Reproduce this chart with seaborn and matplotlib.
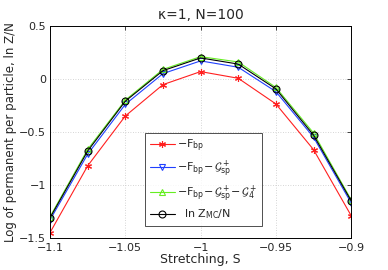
import numpy as np
import pandas as pd
import matplotlib
matplotlib.use("Agg")
import matplotlib.pyplot as plt
import seaborn as sns

"""
Data read off the reference figure.
"""
stretch = [-1.1, -1.075, -1.05, -1.025, -1.0, -0.975, -0.95, -0.925, -0.9]
f_bp = [-1.45, -0.82, -0.35, -0.054, 0.069, 0.006, -0.236, -0.667, -1.29]
f_bp_gsp = [-1.33, -0.71, -0.24, 0.05, 0.17, 0.11, -0.12, -0.55, -1.17]
f_bp_gsp_g4 = [-1.30, -0.665, -0.20, 0.09, 0.21, 0.16, -0.08, -0.51, -1.14]
ln_zmc = [-1.31, -0.68, -0.21, 0.078, 0.198, 0.14, -0.094, -0.53, -1.15]

labels = [
    r"$-\mathrm{F}_{\mathrm{bp}}$",
    r"$-\mathrm{F}_{\mathrm{bp}}{-}\,\mathcal{G}^+_{\mathrm{sp}}$",
    r"$-\mathrm{F}_{\mathrm{bp}}{-}\,\mathcal{G}^+_{\mathrm{sp}}{-}\,\mathcal{G}^+_{4}$",
    r"  ln Z$_{\mathrm{MC}}$/N",
]
series = [f_bp, f_bp_gsp, f_bp_gsp_g4, ln_zmc]
colors = ["#ff2020", "#2040ff", "#66ee22", "#000000"]
markers = [(6, 2, 0), "v", "^", "o"]

df = pd.concat(
    [pd.DataFrame({"S": stretch, "val": v, "curve": lab}) for v, lab in zip(series, labels)],
    ignore_index=True,
)

sns.set_style("white")
plt.rcParams["font.family"] = ["DejaVu Sans"]
plt.rcParams["mathtext.fontset"] = "dejavusans"
plt.rcParams["xtick.direction"] = "in"
plt.rcParams["ytick.direction"] = "in"

fig = plt.figure(figsize=(3.88, 2.70), dpi=100)
ax = fig.add_axes([0.129, 0.119, 0.776, 0.785])

for lab, col, mk in zip(labels, colors, markers):
    sub = df[df["curve"] == lab]
    sns.lineplot(
        data=sub, x="S", y="val", ax=ax, color=col, marker=mk,
        markersize=5, markerfacecolor="none",
        markeredgecolor=col, markeredgewidth=0.8, linewidth=0.8, label=lab,
    )

ax.set_xlim(-1.1, -0.9)
ax.set_ylim(-1.5, 0.5)
ax.set_xticks([-1.1, -1.05, -1.0, -0.95, -0.9])
ax.set_xticklabels(["\u22121.1", "\u22121.05", "\u22121", "\u22120.95", "\u22120.9"])
ax.set_yticks([-1.5, -1.0, -0.5, 0.0, 0.5])
ax.set_yticklabels(["\u22121.5", "\u22121", "\u22120.5", "0", "0.5"])
ax.tick_params(labelsize=8, length=3, width=0.6, top=True, right=True)
ax.tick_params(axis="x", pad=4)
ax.tick_params(axis="y", pad=3)
ax.grid(True, linestyle=(0, (1, 2)), color="#c8c8c8", linewidth=0.6)
for sp in ax.spines.values():
    sp.set_linewidth(0.7)
    sp.set_color("black")

ax.set_xlabel("Stretching, S", fontsize=9, labelpad=0)
ax.set_ylabel("Log of permanent per particle, ln Z/N", fontsize=8.5, labelpad=1)
ax.set_title("\u03ba=1, N=100", fontsize=10, pad=5)

leg = ax.legend(loc="lower center", bbox_to_anchor=(0.51, 0.057), fontsize=8,
                frameon=True, fancybox=False, handlelength=2.3, borderpad=0.4,
                labelspacing=0.35, handletextpad=0.2, borderaxespad=0)
leg.get_frame().set_edgecolor("black")
leg.get_frame().set_linewidth(0.6)

fig.savefig("out.png", dpi=100)
